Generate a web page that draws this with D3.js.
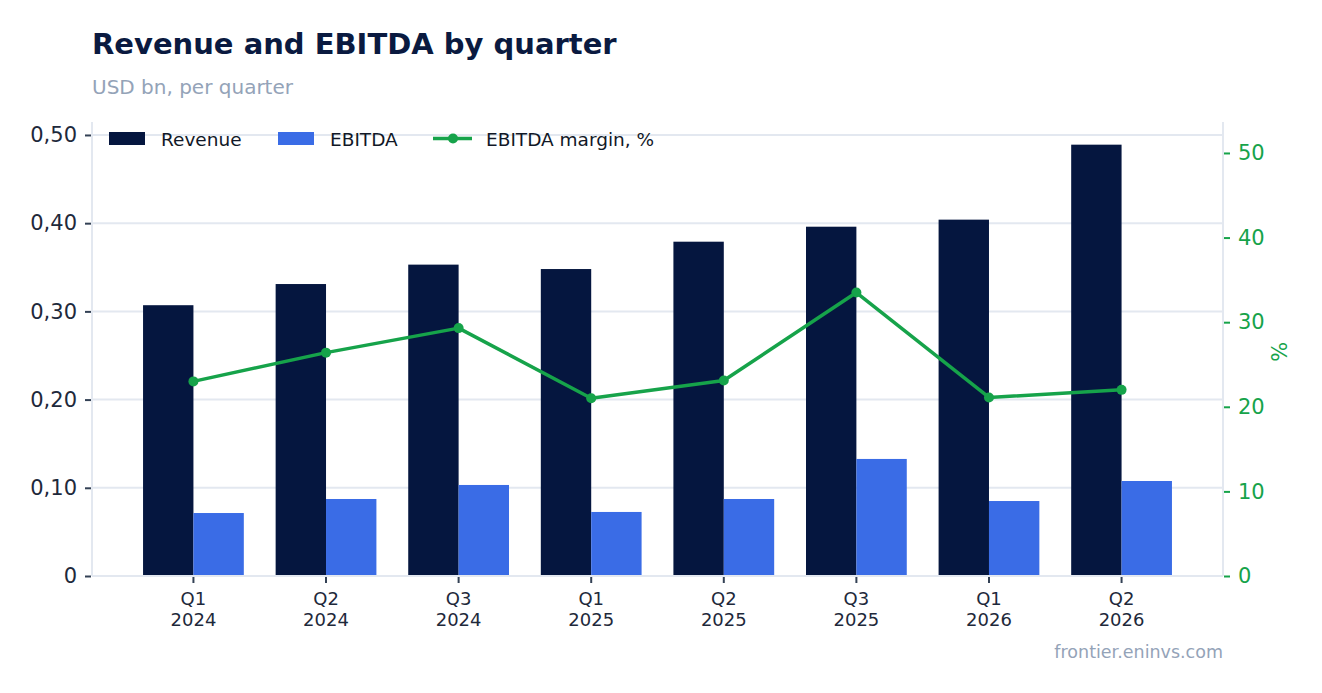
<!DOCTYPE html>
<html>
<head>
<meta charset="utf-8">
<script src="https://cdn.jsdelivr.net/npm/d3@7"></script>
<style>
  body { margin: 0; background: #fff; font-family: "DejaVu Sans", sans-serif; }
</style>
</head>
<body>
<div id="chart"></div>
<script>
// data
var quarters = ["Q1 2024", "Q2 2024", "Q3 2024", "Q1 2025", "Q2 2025", "Q3 2025", "Q1 2026", "Q2 2026"];
var revenue = [0.307, 0.331, 0.353, 0.348, 0.379, 0.396, 0.404, 0.489];
var ebitda = [0.0714, 0.0873, 0.1032, 0.0726, 0.0873, 0.1327, 0.085, 0.1077];
var margin = [23.0, 26.4, 29.3, 21.0, 23.1, 33.5, 21.1, 22.0];
var leftTicks = [0, 0.1, 0.2, 0.3, 0.4, 0.5];
var rightTicks = [0, 10, 20, 30, 40, 50];
var seriesNames = ["Revenue", "EBITDA"];

var colors = { Revenue: "#05163f", EBITDA: "#3a6ce6", line: "#16a34a" };
var grid = "#e3e8f0";

var svgWidth = 1322;
var svgHeight = 693;
var m = { top: 122, right: 99, bottom: 117, left: 92 };
var width = svgWidth - m.left - m.right;
var height = svgHeight - m.top - m.bottom;

var svg = d3.select("#chart")
    .append("svg")
    .attr("width", svgWidth)
    .attr("height", svgHeight);

// title + subtitle
svg.append("text")
    .attr("x", 92).attr("y", 54)
    .style("font-size", "29px").style("font-weight", "bold")
    .style("fill", "#0a1a40")
    .text("Revenue and EBITDA by quarter");
svg.append("text")
    .attr("x", 92).attr("y", 94)
    .style("font-size", "20px").style("fill", "#94a3b8")
    .text("USD bn, per quarter");

var chart = svg.append("g")
    .attr("transform", `translate(${m.left}, ${m.top})`);

// scales
var x = d3.scaleBand()
    .domain(quarters)
    .range([0, width])
    .paddingInner(0.24)
    .paddingOuter(0.385);
var xSub = d3.scaleBand()
    .domain(seriesNames)
    .range([0, x.bandwidth()]);
var yLeft = d3.scaleLinear().domain([0, 0.5147]).range([height, 0]);
var yRight = d3.scaleLinear().domain([0, 53.66]).range([height, 0]);

// gridlines
chart.append("g")
    .selectAll("line")
    .data(leftTicks.slice(1))
    .enter()
    .append("line")
    .attr("x1", 0).attr("x2", width)
    .attr("y1", d => yLeft(d)).attr("y2", d => yLeft(d))
    .attr("stroke", grid).attr("stroke-width", 2);

// frame lines (left, right)
chart.append("line").attr("x1", 0).attr("x2", 0).attr("y1", 0).attr("y2", height)
    .attr("stroke", grid).attr("stroke-width", 2);
chart.append("line").attr("x1", width).attr("x2", width).attr("y1", 0).attr("y2", height)
    .attr("stroke", grid).attr("stroke-width", 2);

// bars
var rows = quarters.map((q, i) => ({ q: q, Revenue: revenue[i], EBITDA: ebitda[i] }));
chart.append("g")
    .selectAll("g")
    .data(rows)
    .enter()
    .append("g")
    .attr("transform", d => `translate(${x(d.q)}, 0)`)
    .selectAll("rect")
    .data(d => seriesNames.map(k => ({ key: k, value: d[k] })))
    .enter()
    .append("rect")
    .attr("x", d => xSub(d.key))
    .attr("width", xSub.bandwidth())
    .attr("y", d => yLeft(d.value))
    .attr("height", d => height - yLeft(d.value))
    .attr("fill", d => colors[d.key]);

chart.append("line").attr("x1", 0).attr("x2", width).attr("y1", height).attr("y2", height)
    .attr("stroke", grid).attr("stroke-width", 2);

// margin line
var cx = d => x(d) + x.bandwidth() / 2;
var line = d3.line()
    .x((d, i) => cx(quarters[i]))
    .y(d => yRight(d));
chart.append("path")
    .datum(margin)
    .attr("d", line)
    .attr("fill", "none")
    .attr("stroke", colors.line)
    .attr("stroke-width", 3.5)
    .attr("stroke-linejoin", "round");
chart.selectAll(".dot")
    .data(margin)
    .enter()
    .append("circle")
    .attr("class", "dot")
    .attr("cx", (d, i) => cx(quarters[i]))
    .attr("cy", d => yRight(d))
    .attr("r", 5)
    .attr("fill", colors.line);

// left axis
var leftAxis = d3.axisLeft(yLeft)
    .tickValues(leftTicks)
    .tickSize(6)
    .tickPadding(8)
    .tickFormat(d => d === 0 ? "0" : d3.format(".2f")(d).replace(".", ","));
var gl = chart.append("g").attr("transform", "translate(-1, 0)").call(leftAxis);
gl.select(".domain").remove();
gl.selectAll("line").attr("stroke", "#334155").attr("stroke-width", 2);
gl.selectAll("text").style("font-size", "21px").style("fill", "#1e293b")
    .style("font-family", "DejaVu Sans");

// right axis
var rightAxis = d3.axisRight(yRight)
    .tickValues(rightTicks)
    .tickSize(6)
    .tickPadding(8);
var gr = chart.append("g").attr("transform", `translate(${width + 1}, 0)`).call(rightAxis);
gr.select(".domain").remove();
gr.selectAll("line").attr("stroke", colors.line).attr("stroke-width", 2);
gr.selectAll("text").style("font-size", "21px").style("fill", colors.line)
    .style("font-family", "DejaVu Sans");

chart.append("text")
    .attr("transform", `translate(${width + 64}, ${yRight(26.5)}) rotate(-90)`)
    .style("text-anchor", "middle")
    .style("font-size", "21px")
    .style("fill", colors.line)
    .text("%");

// x axis
var bottomAxis = d3.axisBottom(x).tickSize(6).tickPadding(4).tickFormat("");
var gx = chart.append("g").attr("transform", `translate(0, ${height + 1})`).call(bottomAxis);
gx.select(".domain").remove();
gx.selectAll("line").attr("stroke", "#334155").attr("stroke-width", 2);
gx.selectAll(".tick").each(function (d) {
    var parts = d.split(" ");
    var t = d3.select(this).append("text")
        .attr("text-anchor", "middle")
        .style("font-size", "18px")
        .style("fill", "#1e293b")
        .style("font-family", "DejaVu Sans");
    t.append("tspan").attr("x", 0).attr("y", 28).text(parts[0]);
    t.append("tspan").attr("x", 0).attr("y", 49).text(parts[1]);
});

// legend
var legend = chart.append("g").attr("transform", "translate(17, 10)");
var items = [
    { name: "Revenue", type: "bar", x: 0 },
    { name: "EBITDA", type: "bar", x: 169 },
    { name: "EBITDA margin, %", type: "line", x: 324 }
];
items.forEach(function (it) {
    var g = legend.append("g").attr("transform", `translate(${it.x}, 0)`);
    if (it.type === "bar") {
        g.append("rect").attr("x", 0).attr("y", 0).attr("width", 36).attr("height", 13)
            .attr("fill", colors[it.name]);
        g.append("text").attr("x", 52).attr("y", 14).style("font-size", "18.5px")
            .style("fill", "#111827").text(it.name);
    } else {
        g.append("line").attr("x1", 0).attr("x2", 39).attr("y1", 6.5).attr("y2", 6.5)
            .attr("stroke", colors.line).attr("stroke-width", 3.5);
        g.append("circle").attr("cx", 20).attr("cy", 6.5).attr("r", 5).attr("fill", colors.line);
        g.append("text").attr("x", 53).attr("y", 14).style("font-size", "18.5px")
            .style("fill", "#111827").text(it.name);
    }
});

// source
svg.append("text")
    .attr("x", 1223).attr("y", 658)
    .style("text-anchor", "end")
    .style("font-size", "17.5px")
    .style("fill", "#94a3b8")
    .text("frontier.eninvs.com");
</script>
</body>
</html>
